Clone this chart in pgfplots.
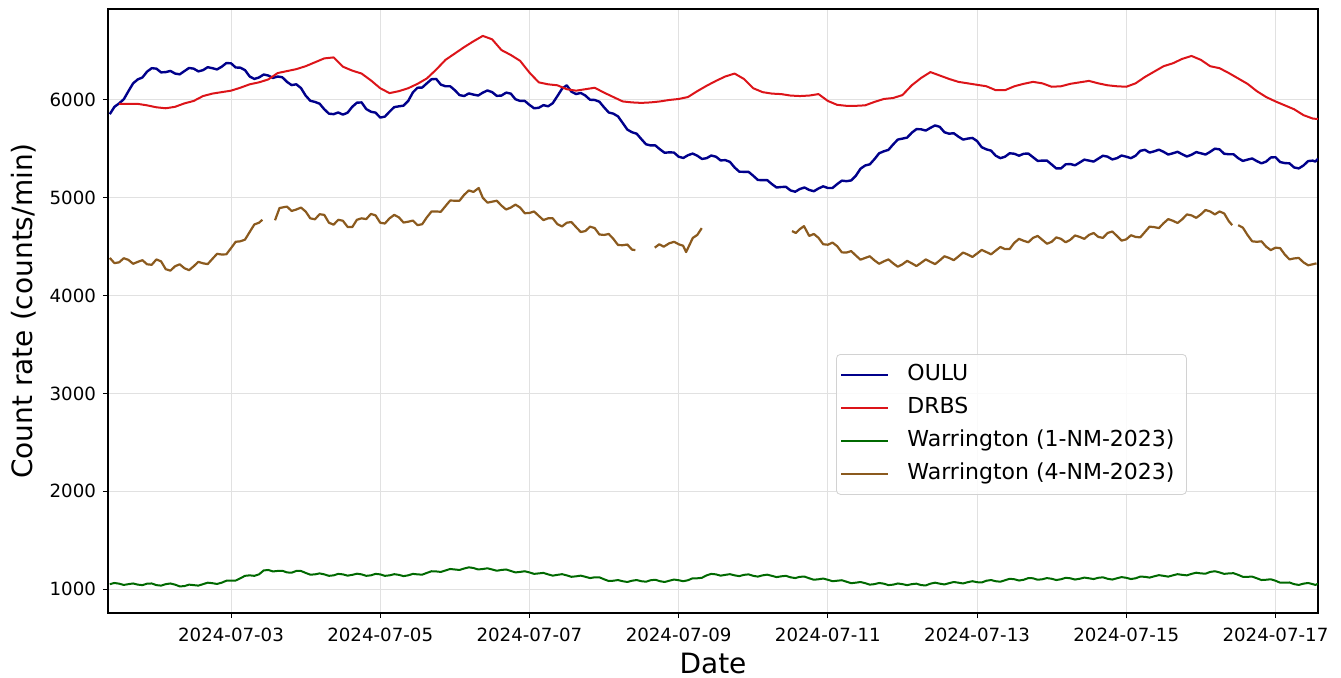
\documentclass[border=0pt]{standalone}
\usepackage{fontspec}
\setmainfont{DejaVu Sans}
\usepackage{pgfplots}
\pgfplotsset{compat=1.18}
\definecolor{oulu}{RGB}{0,0,139}
\definecolor{drbs}{RGB}{220,20,25}
\definecolor{wone}{RGB}{0,105,0}
\definecolor{wfour}{RGB}{139,90,30}
\definecolor{gridc}{RGB}{225,225,225}
\begin{document}
\begin{tikzpicture}
\path[use as bounding box] (-54pt,-32pt) rectangle (616.5pt,306.5pt);
\begin{axis}[
  at={(0pt,0pt)}, anchor=south west,
  scale only axis, width=605pt, height=302pt,
  xmin=0.351, xmax=16.57, ymin=755, ymax=6930,
  xtick={2,4,...,16},
  xticklabels={2024-07-03,2024-07-05,2024-07-07,2024-07-09,2024-07-11,2024-07-13,2024-07-15,2024-07-17},
  ytick={1000,2000,...,6000},
  /pgf/number format/1000 sep={},
  /pgf/number format/assume math mode=true,
  tick label style={font=\fontsize{9.1}{11}\selectfont},
  xticklabel style={yshift=-1.5pt},
  tick align=outside, tick pos=left,
  major tick length=2.5pt,
  every tick/.style={black, line width=0.5pt},
  axis line style={line width=0.6pt, black},
  grid=major,
  major grid style={gridc, line width=0.5pt},
  xlabel={Date},
  ylabel={Count rate (counts/min)},
  label style={font=\fontsize{14}{17}\selectfont},
  xlabel style={at={(axis description cs:0.5,0)}, anchor=base, yshift=-30pt},
  ylabel style={at={(axis description cs:-0.062,0.5)}, anchor=base},
  legend style={at={(0.6017,0.4288)}, anchor=north west, draw=gray!35, rounded corners=2pt,
    fill=white, fill opacity=0.85, text opacity=1,
    font=\fontsize{11}{13}\selectfont, inner xsep=2pt, inner ysep=2pt,
    nodes={text height=8.5pt, text depth=2.5pt, inner ysep=2.75pt, inner xsep=4pt},
    /tikz/every odd column/.append style={column sep=5pt},
    legend cell align=left},
  legend image code/.code={\draw[#1, line width=1pt] (0pt,0pt) -- (23.5pt,0pt);},
  every axis plot/.append style={line width=1pt, line join=round},
]
\addplot[oulu, line width=1.2pt] table {
0.375 5855
0.4375 5930
0.5 5965
0.5625 6007
0.625 6090
0.6875 6170
0.75 6210
0.8125 6230
0.875 6290
0.9375 6325
1.0 6320
1.0625 6282
1.125 6285
1.1875 6297
1.25 6270
1.3125 6262
1.375 6295
1.4375 6327
1.5 6320
1.5625 6292
1.625 6305
1.6875 6335
1.75 6325
1.8125 6312
1.875 6340
1.9375 6377
2.0 6375
2.0625 6332
2.125 6330
2.1875 6305
2.25 6240
2.3125 6215
2.375 6230
2.4375 6260
2.5 6250
2.5625 6225
2.625 6240
2.6875 6232
2.75 6185
2.8125 6152
2.875 6160
2.9375 6122
3.0 6045
3.0625 5992
3.125 5980
3.1875 5962
3.25 5905
3.3125 5860
3.375 5855
3.4375 5872
3.5 5850
3.5625 5870
3.625 5930
3.6875 5972
3.75 5975
3.8125 5907
3.875 5880
3.9375 5870
4.0 5820
4.0625 5830
4.125 5880
4.1875 5927
4.25 5935
4.3125 5942
4.375 5990
4.4375 6077
4.5 6125
4.5625 6127
4.625 6170
4.6875 6212
4.75 6215
4.8125 6157
4.875 6140
4.9375 6140
5.0 6100
5.0625 6050
5.125 6040
5.1875 6067
5.25 6055
5.3125 6045
5.375 6075
5.4375 6097
5.5 6080
5.5625 6042
5.625 6045
5.6875 6075
5.75 6065
5.8125 6007
5.875 5990
5.9375 5990
6.0 5950
6.0625 5915
6.125 5920
6.1875 5947
6.25 5935
6.3125 5967
6.375 6040
6.4375 6115
6.5 6150
6.5625 6085
6.625 6060
6.6875 6072
6.75 6045
6.8125 6002
6.875 6000
6.9375 5982
7.0 5925
7.0625 5872
7.125 5860
7.1875 5832
7.25 5765
7.3125 5697
7.375 5670
7.4375 5655
7.5 5600
7.5625 5547
7.625 5535
7.6875 5535
7.75 5495
7.8125 5460
7.875 5465
7.9375 5462
8.0 5420
8.0625 5407
8.125 5435
8.1875 5452
8.25 5430
8.3125 5397
8.375 5405
8.4375 5432
8.5 5420
8.5625 5382
8.625 5385
8.6875 5367
8.75 5310
8.8125 5267
8.875 5265
8.9375 5265
9.0 5225
9.0625 5182
9.125 5180
9.1875 5180
9.25 5140
9.3125 5105
9.375 5110
9.4375 5112
9.5 5075
9.5625 5062
9.625 5090
9.6875 5105
9.75 5080
9.8125 5067
9.875 5095
9.9375 5117
10.0 5100
10.0625 5100
10.125 5140
10.1875 5175
10.25 5170
10.3125 5177
10.375 5225
10.4375 5297
10.5 5330
10.5625 5342
10.625 5395
10.6875 5455
10.75 5475
10.8125 5490
10.875 5545
10.9375 5595
11.0 5605
11.0625 5615
11.125 5665
11.1875 5702
11.25 5700
11.3125 5687
11.375 5715
11.4375 5740
11.5 5725
11.5625 5670
11.625 5655
11.6875 5660
11.75 5625
11.8125 5595
11.875 5605
11.9375 5612
12.0 5580
12.0625 5517
12.125 5495
12.1875 5482
12.25 5430
12.3125 5405
12.375 5420
12.4375 5455
12.5 5450
12.5625 5430
12.625 5450
12.6875 5452
12.75 5415
12.8125 5377
12.875 5380
12.9375 5380
13.0 5340
13.0625 5300
13.125 5300
13.1875 5342
13.25 5345
13.3125 5332
13.375 5360
13.4375 5390
13.5 5380
13.5625 5370
13.625 5400
13.6875 5430
13.75 5420
13.8125 5392
13.875 5405
13.9375 5432
14.0 5420
14.0625 5405
14.125 5430
14.1875 5480
14.25 5490
14.3125 5462
14.375 5475
14.4375 5492
14.5 5470
14.5625 5442
14.625 5455
14.6875 5470
14.75 5445
14.8125 5422
14.875 5440
14.9375 5467
15.0 5455
15.0625 5442
15.125 5470
15.1875 5502
15.25 5495
15.3125 5450
15.375 5445
15.4375 5445
15.5 5405
15.5625 5377
15.625 5390
15.6875 5402
15.75 5375
15.8125 5352
15.875 5370
15.9375 5412
16.0 5415
16.0625 5365
16.125 5355
16.1875 5352
16.25 5310
16.3125 5300
16.375 5330
16.4375 5375
16.5 5380
16.535 5370
16.57 5400
};
\addlegendentry{OULU}
\addplot[drbs] table {
0.5 5960
0.625 5960
0.75 5960
0.875 5945
1.0 5925
1.125 5915
1.25 5930
1.375 5965
1.5 5990
1.625 6040
1.75 6065
1.875 6080
2.0 6095
2.125 6125
2.25 6160
2.375 6180
2.5 6210
2.625 6275
2.75 6295
2.875 6315
3.0 6345
3.125 6385
3.25 6425
3.375 6435
3.5 6340
3.625 6300
3.75 6270
3.875 6200
4.0 6120
4.125 6070
4.25 6090
4.375 6120
4.5 6165
4.625 6220
4.75 6310
4.875 6410
5.0 6475
5.125 6540
5.25 6600
5.375 6655
5.5 6620
5.625 6510
5.75 6460
5.875 6400
6.0 6280
6.125 6180
6.25 6160
6.375 6150
6.5 6110
6.625 6095
6.75 6110
6.875 6125
7.0 6075
7.125 6030
7.25 5985
7.375 5975
7.5 5970
7.625 5975
7.75 5985
7.875 6000
8.0 6010
8.125 6030
8.25 6090
8.375 6145
8.5 6195
8.625 6240
8.75 6270
8.875 6215
9.0 6120
9.125 6080
9.25 6065
9.375 6060
9.5 6045
9.625 6040
9.75 6045
9.875 6060
10.0 5990
10.125 5950
10.25 5940
10.375 5940
10.5 5945
10.625 5980
10.75 6010
10.875 6020
11.0 6050
11.125 6150
11.25 6225
11.375 6285
11.5 6250
11.625 6215
11.75 6185
11.875 6170
12.0 6155
12.125 6140
12.25 6100
12.375 6100
12.5 6140
12.625 6165
12.75 6185
12.875 6170
13.0 6135
13.125 6140
13.25 6165
13.375 6180
13.5 6195
13.625 6170
13.75 6150
13.875 6140
14.0 6135
14.125 6170
14.25 6235
14.375 6290
14.5 6345
14.625 6375
14.75 6420
14.875 6450
15.0 6410
15.125 6345
15.25 6325
15.375 6275
15.5 6220
15.625 6165
15.75 6090
15.875 6030
16.0 5985
16.125 5945
16.25 5905
16.375 5845
16.5 5810
16.57 5805
};
\addlegendentry{DRBS}
\addplot[wone] table {
0.375 1050
0.4375 1062
0.5 1055
0.5625 1042
0.625 1050
0.6875 1057
0.75 1045
0.8125 1040
0.875 1055
0.9375 1057
1.0 1040
1.0625 1035
1.125 1050
1.1875 1057
1.25 1045
1.3125 1027
1.375 1030
1.4375 1045
1.5 1040
1.5625 1035
1.625 1050
1.6875 1065
1.75 1060
1.8125 1052
1.875 1065
1.9375 1085
2.0 1085
2.0625 1087
2.125 1110
2.1875 1135
2.25 1140
2.3125 1135
2.375 1150
2.4375 1190
2.5 1195
2.5625 1180
2.625 1185
2.6875 1187
2.75 1170
2.8125 1167
2.875 1185
2.9375 1185
3.0 1165
3.0625 1147
3.125 1150
3.1875 1160
3.25 1150
3.3125 1135
3.375 1140
3.4375 1155
3.5 1150
3.5625 1137
3.625 1145
3.6875 1157
3.75 1150
3.8125 1135
3.875 1140
3.9375 1155
4.0 1150
4.0625 1135
4.125 1140
4.1875 1152
4.25 1145
4.3125 1132
4.375 1140
4.4375 1155
4.5 1150
4.5625 1147
4.625 1165
4.6875 1182
4.75 1180
4.8125 1175
4.875 1190
4.9375 1205
5.0 1200
5.0625 1195
5.125 1210
5.1875 1222
5.25 1215
5.3125 1200
5.375 1205
5.4375 1212
5.5 1200
5.5625 1187
5.625 1195
5.6875 1200
5.75 1185
5.8125 1170
5.875 1175
5.9375 1182
6.0 1170
6.0625 1155
6.125 1160
6.1875 1165
6.25 1150
6.3125 1137
6.375 1145
6.4375 1152
6.5 1140
6.5625 1125
6.625 1130
6.6875 1137
6.75 1125
6.8125 1112
6.875 1120
6.9375 1120
7.0 1100
7.0625 1082
7.125 1085
7.1875 1092
7.25 1080
7.3125 1072
7.375 1085
7.4375 1092
7.5 1080
7.5625 1075
7.625 1090
7.6875 1095
7.75 1080
7.8125 1072
7.875 1085
7.9375 1097
8.0 1090
8.0625 1080
8.125 1090
8.1875 1110
8.25 1110
8.3125 1115
8.375 1140
8.4375 1155
8.5 1150
8.5625 1137
8.625 1145
8.6875 1152
8.75 1140
8.8125 1132
8.875 1145
8.9375 1150
9.0 1135
9.0625 1127
9.125 1140
9.1875 1147
9.25 1135
9.3125 1122
9.375 1130
9.4375 1135
9.5 1120
9.5625 1112
9.625 1125
9.6875 1127
9.75 1110
9.8125 1095
9.875 1100
9.9375 1107
10.0 1095
10.0625 1080
10.125 1085
10.1875 1090
10.25 1075
10.3125 1060
10.375 1065
10.4375 1072
10.5 1060
10.5625 1045
10.625 1050
10.6875 1062
10.75 1055
10.8125 1040
10.875 1045
10.9375 1057
11.0 1050
11.0625 1040
11.125 1050
11.1875 1055
11.25 1040
11.3125 1037
11.375 1055
11.4375 1065
11.5 1055
11.5625 1047
11.625 1060
11.6875 1072
11.75 1065
11.8125 1057
11.875 1070
11.9375 1080
12.0 1070
12.0625 1067
12.125 1085
12.1875 1092
12.25 1080
12.3125 1075
12.375 1090
12.4375 1105
12.5 1100
12.5625 1087
12.625 1095
12.6875 1112
12.75 1110
12.8125 1095
12.875 1100
12.9375 1112
13.0 1105
13.0625 1092
13.125 1100
13.1875 1115
13.25 1110
13.3125 1097
13.375 1105
13.4375 1117
13.5 1110
13.5625 1102
13.625 1115
13.6875 1120
13.75 1105
13.8125 1097
13.875 1110
13.9375 1122
14.0 1115
14.0625 1102
14.125 1110
14.1875 1127
14.25 1125
14.3125 1117
14.375 1130
14.4375 1142
14.5 1135
14.5625 1127
14.625 1140
14.6875 1152
14.75 1145
14.8125 1140
14.875 1155
14.9375 1167
15.0 1160
15.0625 1157
15.125 1175
15.1875 1182
15.25 1170
15.3125 1155
15.375 1160
15.4375 1162
15.5 1145
15.5625 1125
15.625 1125
15.6875 1127
15.75 1110
15.8125 1092
15.875 1095
15.9375 1100
16.0 1085
16.0625 1065
16.125 1065
16.1875 1067
16.25 1050
16.3125 1042
16.375 1055
16.4375 1062
16.5 1050
16.535 1042
16.57 1055
};
\addlegendentry{Warrington (1-NM-2023)}
\addplot[wfour, line width=1.1pt] table {
0.375 4385
0.4375 4332
0.5 4340
0.5625 4382
0.625 4365
0.6875 4325
0.75 4345
0.8125 4362
0.875 4320
0.9375 4315
1.0 4370
1.0625 4350
1.125 4270
1.1875 4255
1.25 4300
1.3125 4320
1.375 4280
1.4375 4260
1.5 4300
1.5625 4345
1.625 4330
1.6875 4322
1.75 4375
1.8125 4427
1.875 4420
1.9375 4422
2.0 4485
2.0625 4550
2.125 4555
2.1875 4572
2.25 4650
2.3125 4727
2.375 4745
2.42 4775
};
\addlegendentry{Warrington (4-NM-2023)}
\addplot[wfour, line width=1.1pt, forget plot] table {
2.59 4770
2.65 4895
2.75 4910
2.8125 4865
2.875 4880
2.9375 4900
3.0 4860
3.0625 4790
3.125 4780
3.1875 4832
3.25 4825
3.3125 4745
3.375 4725
3.4375 4775
3.5 4765
3.5625 4702
3.625 4700
3.6875 4775
3.75 4790
3.8125 4782
3.875 4835
3.9375 4820
4.0 4745
4.0625 4737
4.125 4790
4.1875 4825
4.25 4800
4.3125 4747
4.375 4755
4.4375 4767
4.5 4720
4.5625 4730
4.625 4800
4.6875 4860
4.75 4860
4.8125 4857
4.875 4915
4.9375 4972
5.0 4970
5.0625 4970
5.125 5030
5.1875 5075
5.25 5060
5.32 5100
5.375 5000
5.4375 4950
5.5 4960
5.5625 4970
5.625 4920
5.6875 4880
5.75 4900
5.8125 4930
5.875 4900
5.9375 4842
6.0 4845
6.0625 4860
6.125 4815
6.1875 4772
6.25 4790
6.3125 4790
6.375 4730
6.4375 4707
6.5 4745
6.5625 4752
6.625 4700
6.6875 4650
6.75 4660
6.8125 4705
6.875 4690
6.9375 4625
7.0 4620
7.0625 4630
7.125 4580
7.1875 4517
7.25 4515
7.3125 4522
7.375 4470
7.42 4465
};
\addplot[wfour, line width=1.1pt, forget plot] table {
7.68 4490
7.74 4525
7.8 4500
7.875 4535
7.94 4550
8.0 4525
8.06 4510
8.1 4445
8.19 4590
8.25 4620
8.31 4690
};
\addplot[wfour, line width=1.1pt, forget plot] table {
9.52 4660
9.57 4640
9.625 4680
9.68 4710
9.75 4610
9.8125 4630
9.875 4590
9.9375 4525
10.0 4520
10.0625 4542
10.125 4505
10.1875 4442
10.25 4440
10.3125 4455
10.375 4410
10.4375 4367
10.5 4385
10.5625 4402
10.625 4360
10.6875 4325
10.75 4350
10.8125 4370
10.875 4330
10.9375 4295
11.0 4320
11.0625 4355
11.125 4330
11.1875 4302
11.25 4335
11.3125 4370
11.375 4345
11.4375 4322
11.5 4360
11.5625 4402
11.625 4385
11.6875 4362
11.75 4400
11.8125 4440
11.875 4420
11.9375 4395
12.0 4430
12.0625 4467
12.125 4445
12.1875 4422
12.25 4460
12.3125 4497
12.375 4475
12.4375 4477
12.5 4540
12.5625 4580
12.625 4560
12.6875 4545
12.75 4590
12.8125 4610
12.875 4570
12.9375 4530
13.0 4550
13.0625 4595
13.125 4580
13.1875 4545
13.25 4570
13.3125 4615
13.375 4600
13.4375 4580
13.5 4620
13.5625 4640
13.625 4600
13.6875 4590
13.75 4640
13.8125 4655
13.875 4610
13.9375 4562
14.0 4575
14.0625 4617
14.125 4600
14.1875 4595
14.25 4650
14.3125 4705
14.375 4700
14.4375 4690
14.5 4740
14.5625 4782
14.625 4765
14.6875 4742
14.75 4780
14.8125 4830
14.875 4820
14.9375 4795
15.0 4830
15.0625 4875
15.125 4860
15.1875 4830
15.25 4860
15.3125 4840
15.375 4760
15.42 4720
};
\addplot[wfour, line width=1.1pt, forget plot] table {
15.5 4720
15.5625 4695
15.625 4620
15.6875 4555
15.75 4550
15.8125 4555
15.875 4500
15.9375 4465
16.0 4490
16.0625 4485
16.125 4420
16.1875 4370
16.25 4380
16.3125 4385
16.375 4340
16.4375 4310
16.5 4320
16.55 4330
};
\end{axis}
\end{tikzpicture}
\end{document}
